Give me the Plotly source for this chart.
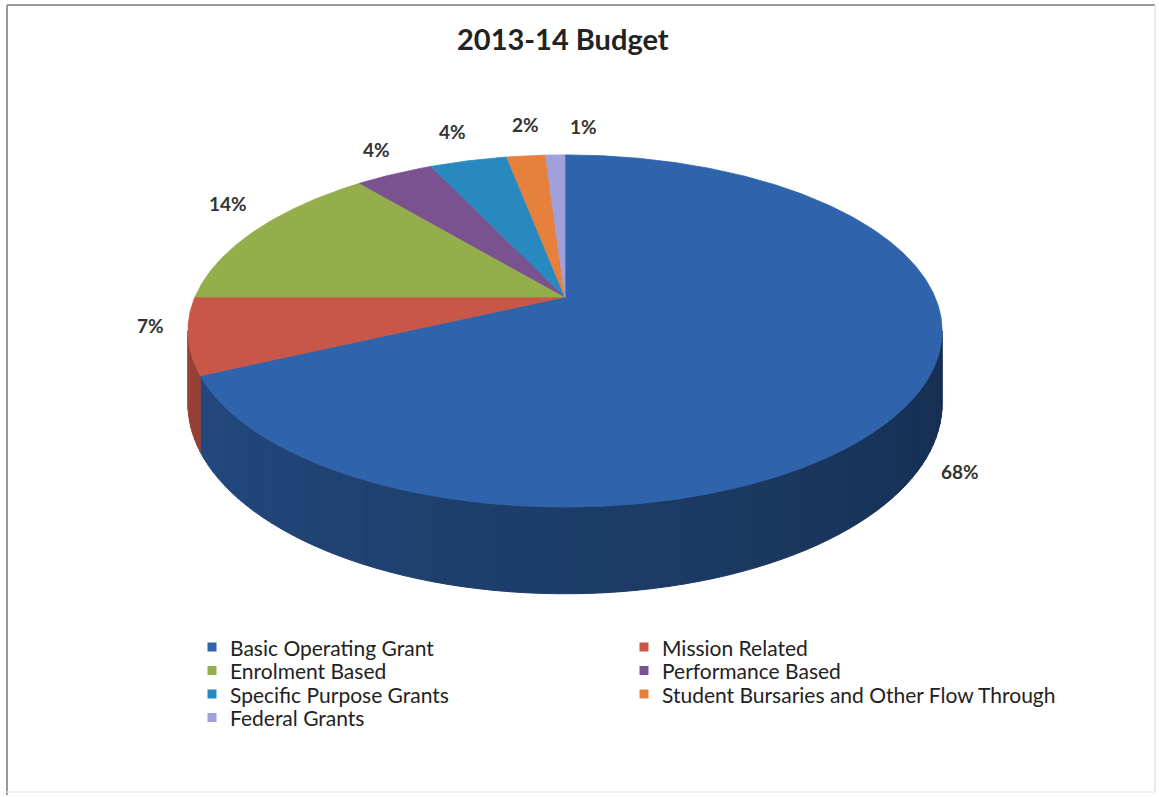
import numpy as np
import plotly.graph_objects as go

# ---- data -------------------------------------------------------------
categories = [
    "Basic Operating Grant",
    "Mission Related",
    "Enrolment Based",
    "Performance Based",
    "Specific Purpose Grants",
    "Student Bursaries and Other Flow Through",
    "Federal Grants",
]
shares = [68, 7, 14, 4, 4, 2, 1]
pct_labels = [f"{v}%" for v in shares]
title_text = "2013-14 Budget"

# ---- styling ----------------------------------------------------------
top_colors = ["#2F63AC", "#C95747", "#93AE4A", "#7A5290", "#2789BF", "#E8803D", "#A0A0DA"]
# pixel nudges for the percentage labels (Excel-like "best fit" spacing)
label_nudge = [(-25, -27), (34, -17), (23, -16), (8, -6), (-2, -9), (5, -11), (30, -8)]

W, H = 1159, 797
FONT = "Lato"

# legend grid (two columns, row-major), in pixels
LEG_X0, LEG_COL_W = 212.0, 432.0
LEG_Y0, LEG_ROW_H = 647.0, 23.5
LEG_TEXT_GAP = 16.0

# ---- perspective projection of a tilted disc --------------------------
CX, CY = 565.0, 297.0          # apex of the pie on screen
A, B, K = 370.0, 169.5, 0.193  # horizontal / vertical radius, perspective factor
DEPTH = 70.0                   # thickness of the disc


def project(theta_deg, r=1.0, drop=0.0):
    t = np.radians(theta_deg)
    u = r * np.sin(t)
    v = r * np.cos(t)
    den = 1.0 + K * v
    return CX + A * u / den, CY - B * v / den + DEPTH * drop / den


def shade(hex_color, f):
    h = hex_color.lstrip("#")
    rgb = [int(h[i:i + 2], 16) for i in (0, 2, 4)]
    return "rgb({},{},{})".format(*[int(round(c * f)) for c in rgb])


total = float(sum(shares))
bounds = np.concatenate([[0.0], np.cumsum(shares)]) * 360.0 / total

fig = go.Figure()

# visible part of the rim (front half between the silhouette points)
vis_lo = np.degrees(np.arccos(-K))
vis_hi = 360.0 - vis_lo

for i, (s, e) in enumerate(zip(bounds[:-1], bounds[1:])):
    a0, a1 = max(s, vis_lo), min(e, vis_hi)
    if a1 <= a0:
        continue
    n = max(1, int(np.ceil((a1 - a0) / 2.0)))
    edges = np.linspace(a0, a1, n + 1)
    for ta, tb in zip(edges[:-1], edges[1:]):
        th = np.linspace(ta, tb, 4)
        xt, yt = project(th)
        xb, yb = project(th[::-1], drop=1.0)
        xs = np.concatenate([xt, xb, xt[:1]])
        ys = np.concatenate([yt, yb, yt[:1]])
        mid = 0.5 * (ta + tb)
        f = 0.46 + 0.30 * (mid - vis_lo) / (vis_hi - vis_lo)
        c = shade(top_colors[i], f)
        fig.add_trace(go.Scatter(
            x=xs, y=ys, mode="lines", fill="toself", fillcolor=c,
            line=dict(color=c, width=1), hoverinfo="skip", showlegend=False))

# top face wedges
for i, (s, e) in enumerate(zip(bounds[:-1], bounds[1:])):
    th = np.linspace(s, e, max(3, int((e - s) / 0.5) + 1))
    xr, yr = project(th)
    xs = np.concatenate([[CX], xr, [CX]])
    ys = np.concatenate([[CY], yr, [CY]])
    fig.add_trace(go.Scatter(
        x=xs, y=ys, mode="lines", fill="toself", fillcolor=top_colors[i],
        line=dict(color=top_colors[i], width=0.8),
        name=categories[i], text=pct_labels[i], hoverinfo="name+text",
        showlegend=False))

annotations = []

# legend: colour keys + names laid out in two columns
leg_x = [LEG_X0 + (i % 2) * LEG_COL_W for i in range(len(categories))]
leg_y = [LEG_Y0 + (i // 2) * LEG_ROW_H for i in range(len(categories))]
fig.add_trace(go.Scatter(
    x=leg_x, y=leg_y, mode="markers", showlegend=False, hoverinfo="skip",
    marker=dict(symbol="square", size=9, color=top_colors, line=dict(width=0))))
for name, lx, ly in zip(categories, leg_x, leg_y):
    annotations.append(dict(
        x=lx + LEG_TEXT_GAP, y=ly, xref="x", yref="y", text=name,
        xanchor="left", yanchor="middle", showarrow=False,
        font=dict(family=FONT, size=21, color="#222222")))

# percentage labels
for i, (s, e) in enumerate(zip(bounds[:-1], bounds[1:])):
    mid = 0.5 * (s + e)
    drop = 1.0 if np.cos(np.radians(mid)) < -0.4 else 0.0
    lx, ly = project(mid, r=1.18, drop=drop)
    dx, dy = label_nudge[i]
    annotations.append(dict(
        x=float(lx) + dx, y=float(ly) + dy, xref="x", yref="y",
        text=f"<b>{pct_labels[i]}</b>", showarrow=False,
        font=dict(family=FONT, size=19, color="#333333")))

annotations.append(dict(
    x=563, y=38, xref="x", yref="y", text=f"<b>{title_text}</b>",
    showarrow=False, font=dict(family=FONT, size=29, color="#222222")))

shapes = [
    dict(type="line", xref="x", yref="y", x0=7, y0=5, x1=1155, y1=5,
         line=dict(color="#9a9a9a", width=2)),
    dict(type="line", xref="x", yref="y", x0=7, y0=5, x1=7, y1=795,
         line=dict(color="#9a9a9a", width=2)),
    dict(type="line", xref="x", yref="y", x0=1155, y0=5, x1=1155, y1=792,
         line=dict(color="#e2e2e2", width=1.5)),
    dict(type="line", xref="x", yref="y", x0=7, y0=792, x1=1155, y1=792,
         line=dict(color="#ececec", width=1.5)),
]

fig.update_layout(
    width=W, height=H,
    margin=dict(l=0, r=0, t=0, b=0),
    paper_bgcolor="white", plot_bgcolor="white",
    xaxis=dict(range=[0, W], visible=False, fixedrange=True),
    yaxis=dict(range=[H, 0], visible=False, fixedrange=True),
    annotations=annotations,
    shapes=shapes,
    showlegend=False,
)

fig.write_html("out.html")
